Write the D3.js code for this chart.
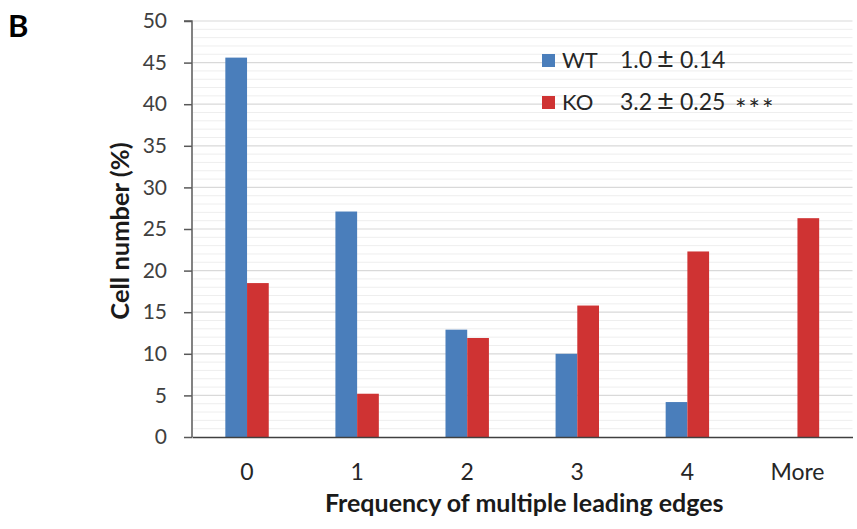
<!DOCTYPE html>
<html>
<head>
<meta charset="utf-8">
<script src="https://cdn.jsdelivr.net/npm/d3@7"></script>
<style>
  html, body { margin: 0; padding: 0; background: #fff; }
  svg { display: block; }
  text { font-family: Lato, "Open Sans", sans-serif; }
</style>
</head>
<body>
<svg id="chart" width="857" height="529"></svg>
<script>
// ---- data ----
const categories = ["0", "1", "2", "3", "4", "More"];
const seriesNames = ["WT", "KO"];
const wtValues = [45.6, 27.1, 12.9, 10.0, 4.2, 0];
const koValues = [18.5, 5.2, 11.9, 15.8, 22.3, 26.3];
const yTicks = [0, 5, 10, 15, 20, 25, 30, 35, 40, 45, 50];
const legendStats = ["1.0", "0.14", "3.2", "0.25"];
const colors = { WT: "#4A7EBB", KO: "#CF3333" };

const svg = d3.select("#chart");
const plot = { left: 192, right: 852.5, top: 21, bottom: 437 };

const x = d3.scaleBand().domain(categories).range([plot.left, plot.right]).paddingInner(0).paddingOuter(0);
const xs = d3.scaleBand().domain(seriesNames).range([0, x.bandwidth()]).paddingInner(0).paddingOuter(1.535);
const y = d3.scaleLinear().domain([0, 50]).range([plot.bottom, plot.top]);

// minor gridlines
svg.append("g").selectAll("line")
  .data(d3.range(1, 50).filter(v => v % 5 !== 0))
  .join("line")
  .attr("x1", plot.left + 1).attr("x2", plot.right)
  .attr("y1", d => y(d)).attr("y2", d => y(d))
  .attr("stroke", "#eeeeee").attr("stroke-width", 1);

// major gridlines
svg.append("g").selectAll("line")
  .data(yTicks.filter(v => v > 0))
  .join("line")
  .attr("x1", plot.left + 1).attr("x2", plot.right)
  .attr("y1", d => y(d)).attr("y2", d => y(d))
  .attr("stroke", "#d9d9d9").attr("stroke-width", 1.2);

// bars
const rows = categories.map((c, i) => ({ cat: c, WT: wtValues[i], KO: koValues[i] }));
const groups = svg.append("g").selectAll("g")
  .data(rows).join("g")
  .attr("transform", d => `translate(${x(d.cat)},0)`);
groups.selectAll("rect")
  .data(d => seriesNames.map(s => ({ s, v: d[s] })))
  .join("rect")
  .attr("x", d => xs(d.s))
  .attr("width", xs.bandwidth())
  .attr("y", d => y(d.v))
  .attr("height", d => y(0) - y(d.v))
  .attr("fill", d => colors[d.s]);

// y axis
const yAxis = d3.axisLeft(y).tickValues(yTicks).tickSize(8).tickPadding(17).tickFormat(d3.format("d"));
const gy = svg.append("g").attr("transform", `translate(${plot.left},0)`).call(yAxis);
gy.select(".domain").attr("stroke", "#595959").attr("stroke-width", 1.5).attr("d", `M-8,${plot.top}H0V${plot.bottom}`);
gy.selectAll(".tick line").attr("stroke", "#595959").attr("stroke-width", 1.5);
gy.selectAll(".tick text").attr("font-size", 21).attr("fill", "#404040").attr("font-family", "Lato, sans-serif");

// x axis
const xAxis = d3.axisBottom(x).tickSize(0).tickPadding(27);
const gx = svg.append("g").attr("transform", `translate(0,${plot.bottom})`).call(xAxis);
gx.select(".domain").attr("stroke", "#404040").attr("stroke-width", 1.5);
gx.selectAll(".tick text").attr("font-size", 23).attr("fill", "#262626").attr("font-family", "Lato, sans-serif");

// axis titles
svg.append("text")
  .attr("x", (plot.left + plot.right) / 2 + 2).attr("y", 512)
  .attr("text-anchor", "middle").attr("font-size", 25).attr("font-weight", "bold").attr("fill", "#1a1a1a")
  .text("Frequency of multiple leading edges");
svg.append("text")
  .attr("transform", `translate(129,231) rotate(-90)`)
  .attr("text-anchor", "middle").attr("font-size", 25.5).attr("font-weight", "bold").attr("fill", "#1a1a1a")
  .text("Cell number (%)");

// panel letter
svg.append("text").attr("x", 8).attr("y", 37).attr("font-size", 31).attr("font-weight", "bold")
  .attr("font-family", "Liberation Sans, Arial, sans-serif").attr("fill", "#000").text("B");

// legend
const legend = [
  { name: "WT", mean: legendStats[0], sem: legendStats[1], sig: "", yb: 68 },
  { name: "KO", mean: legendStats[2], sem: legendStats[3], sig: "***", yb: 110 }
];
const lg = svg.append("g");
legend.forEach(l => {
  lg.append("rect").attr("x", 542).attr("y", l.yb - 14).attr("width", 13).attr("height", 13).attr("fill", colors[l.name]);
  lg.append("text").attr("x", 562).attr("y", l.yb).attr("font-size", 22).attr("fill", "#262626").text(l.name);
  const t = lg.append("text").attr("x", 620).attr("y", l.yb).attr("font-size", 23).attr("fill", "#262626");
  t.append("tspan").text(l.mean);
  t.append("tspan").attr("x", 657).attr("font-size", 29).text("±");
  t.append("tspan").attr("x", 680).text(l.sem);
  if (l.sig) t.append("tspan").attr("x", 735).attr("dy", 9).attr("font-size", 27).attr("letter-spacing", 2).text(l.sig);
});
</script>
</body>
</html>
